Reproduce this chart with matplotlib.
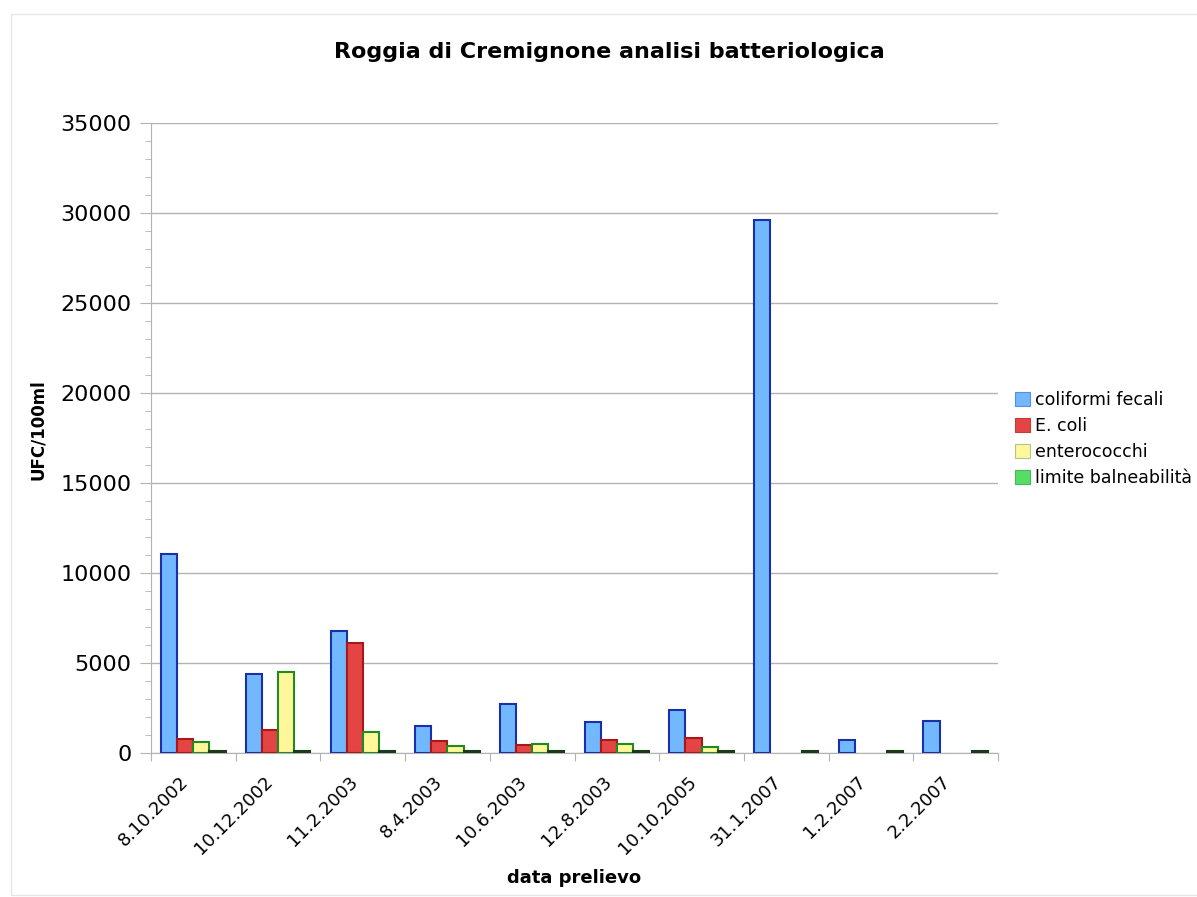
import numpy as np
import matplotlib
matplotlib.use("Agg")
import matplotlib.pyplot as plt
from matplotlib.patches import Rectangle, Patch
from matplotlib.ticker import MultipleLocator

# DATA (nan = no sample)
dates = ["8.10.2002", "10.12.2002", "11.2.2003", "8.4.2003", "10.6.2003",
         "12.8.2003", "10.10.2005", "31.1.2007", "1.2.2007", "2.2.2007"]
coliformi_fecali = [11050, 4400, 6800, 1500, 2700, 1750, 2400, 29600, 700, 1800]
e_coli = [800, 1300, 6100, 670, 450, 750, 850, np.nan, np.nan, np.nan]
enterococchi = [600, 4500, 1150, 400, 500, 500, 350, np.nan, np.nan, np.nan]
limite_balneabilita = [100, 100, 100, 100, 100, 100, 100, 100, 100, 100]

series = [
    ("coliformi fecali", coliformi_fecali, "#72b8ff", "#1a2fa8", "#5a8fd8"),
    ("E. coli", e_coli, "#e44444", "#a81818", "#c83a3a"),
    ("enterococchi", enterococchi, "#fff79a", "#1f8a1f", "#a8c890"),
    ("limite balneabilità", limite_balneabilita, "#55dd66", "#1a3a1a", "#48b858"),
]

# %%
fig = plt.figure(figsize=(11.97, 8.97), dpi=100)
fig.patches.append(Rectangle((11 / 1197, 2 / 897), 1.0, 881 / 897, transform=fig.transFigure,
                             fill=False, edgecolor="#e6e6e6", linewidth=1))
ax = fig.add_axes([151 / 1197, 1 - 753 / 897, (998 - 151) / 1197, (753 - 123) / 897])

x = np.arange(len(dates))
w = 0.19
handles = []
for k, (name, vals, fc, ec, lc) in enumerate(series):
    ax.bar(x + (k - 1.5) * w, vals, width=w, color=fc, edgecolor=ec, linewidth=1.5, zorder=3)
    handles.append(Patch(facecolor=fc, edgecolor=lc, linewidth=0.8, label=name))

ax.set_xlim(-0.5, len(dates) - 0.5)
ax.set_ylim(0, 35000)
ax.yaxis.set_major_locator(MultipleLocator(5000))
ax.yaxis.set_minor_locator(MultipleLocator(1000))
ax.grid(axis="y", which="major", color="#b3b3b3", linewidth=1, zorder=0)

ax.set_xticks(np.arange(len(dates) + 1) - 0.5)
ax.set_xticklabels([])
# labels sit a little left of the group centre, like the original
ax.set_xticks(x - 0.17, minor=True)
ax.set_xticklabels(dates, minor=True, rotation=45, ha="right", rotation_mode="anchor",
                   fontsize=13)
ax.tick_params(axis="x", which="minor", length=0, pad=14)
ax.tick_params(axis="x", which="major", length=6, color="#b3b3b3")
ax.tick_params(axis="y", which="major", length=8, color="#b3b3b3", labelsize=16, pad=6)
ax.tick_params(axis="y", which="minor", length=4, color="#b3b3b3")

for s in ["top", "right"]:
    ax.spines[s].set_visible(False)
for s in ["left", "bottom"]:
    ax.spines[s].set_color("#b3b3b3")

fig.text(609 / 1197, 1 - 52 / 897, "Roggia di Cremignone analisi batteriologica",
         ha="center", va="center", fontsize=16, fontweight="bold")
fig.text(38 / 1197, 1 - 430 / 897, "UFC/100ml", rotation=90, ha="center", va="center",
         fontsize=12, fontweight="bold")
fig.text(574 / 1197, 1 - 878 / 897, "data prelievo", ha="center", va="center",
         fontsize=13, fontweight="bold")

ax.legend(handles=handles, loc="center left", bbox_to_anchor=(1015 / 1197, 1 - 439 / 897),
          bbox_transform=fig.transFigure, frameon=False, fontsize=12.5,
          handlelength=0.85, handleheight=0.85, handletextpad=0.3, labelspacing=0.45,
          borderaxespad=0, borderpad=0)

fig.savefig("out.png", dpi=100)
